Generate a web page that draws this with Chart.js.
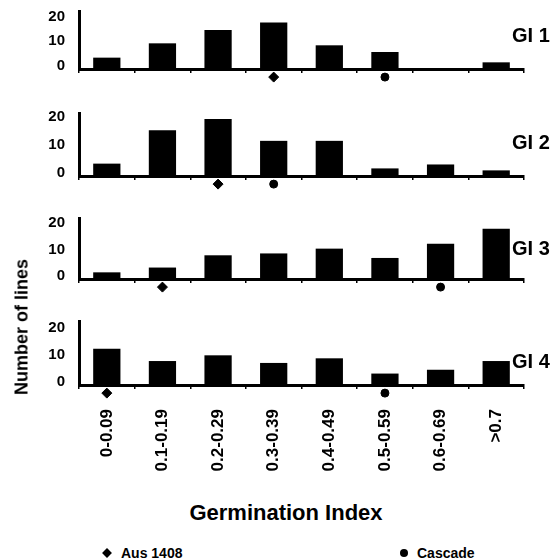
<!DOCTYPE html>
<html>
<head>
<meta charset="utf-8">
<script src="https://cdn.jsdelivr.net/npm/chart.js@4"></script>
<style>
  body { margin: 0; background: #fff; width: 559px; height: 559px; position: relative; overflow: hidden; font-family: 'Liberation Sans', Arial, sans-serif; color: #000; }
  canvas { position: absolute; left: 0; }
  .txt { position: absolute; font-weight: bold; white-space: nowrap; }
  .gi { font-size: 20px; left: 512px; transform: translateY(-50%); }
  .ytitle { font-size: 18px; left: 22px; top: 327px; transform: translate(-50%, -50%) rotate(-90deg); }
  .xtitle { font-size: 22px; left: 286px; top: 513px; transform: translate(-50%, -50%); }
  .leg { font-size: 14px; top: 553px; transform: translateY(-50%); }
  .dia { position: absolute; width: 7px; height: 7px; background: #000; transform: translate(-50%, -50%) rotate(45deg); top: 553px; }
  .dot { position: absolute; width: 8px; height: 8px; border-radius: 50%; background: #000; transform: translate(-50%, -50%); top: 553px; }
</style>
</head>
<body>
<script>
// germination index classes
const categories = ['0-0.09', '0.1-0.19', '0.2-0.29', '0.3-0.39', '0.4-0.49', '0.5-0.59', '0.6-0.69', '>0.7'];

// number of lines per class, one array per panel
const gi1 = [4.6, 10.4, 15.8, 18.8, 9.6, 6.9, 0.4, 2.7];
const gi2 = [4.4, 16.3, 20.3, 12.5, 12.5, 2.7, 4.1, 2.0];
const gi3 = [2.5, 4.3, 8.9, 9.6, 11.4, 7.9, 13.2, 18.9];
const gi4 = [13.3, 8.8, 10.9, 8.1, 9.8, 4.2, 5.6, 8.8];

// class of the parents in each panel (index into categories)
const ausIdx = [3, 2, 1, 0];
const cascadeIdx = [5, 3, 6, 5];

const panelNames = ['GI 1', 'GI 2', 'GI 3', 'GI 4'];
const yTicks = [0, 10, 20];

// layout of each panel (pixels)
const panels = [
  { data: gi1, top: 8, base: 69, max: 23.5, gy: 35 },
  { data: gi2, top: 110, base: 176, max: 22.4, gy: 142 },
  { data: gi3, top: 215, base: 279, max: 22.9, gy: 248 },
  { data: gi4, top: 318, base: 385, max: 23.5, gy: 361 }
];

const padTop = 12;

// parent markers sit just under the axis, so let the points draw below the chart area
const belowAxis = {
  id: 'belowAxis',
  beforeDatasetsDraw(chart) { chart.chartArea.bottom += 20; },
  afterDatasetsDraw(chart) { chart.chartArea.bottom -= 20; }
};

panels.forEach((p, i) => {
  const last = i === panels.length - 1;
  const bottomSpace = last ? 100 : 22;
  const h = (p.base - p.top) + padTop + bottomSpace;
  const cv = document.createElement('canvas');
  cv.width = 559;
  cv.height = h;
  cv.style.top = (p.top - padTop) + 'px';
  document.body.appendChild(cv);

  const ppu = (p.base - p.top) / p.max;
  const markY = -8.5 / ppu;
  const aus = categories.map((c, k) => k === ausIdx[i] ? markY : null);
  const cas = categories.map((c, k) => k === cascadeIdx[i] ? markY : null);

  new Chart(cv, {
    type: 'bar',
    data: {
      labels: categories,
      datasets: [
        {
          label: 'lines',
          data: p.data,
          backgroundColor: '#000',
          barPercentage: 0.49,
          categoryPercentage: 1
        },
        {
          type: 'line',
          label: 'Aus 1408',
          data: aus,
          showLine: false,
          pointStyle: 'rectRot',
          pointRadius: 5,
          pointBackgroundColor: '#000',
          pointBorderColor: '#000',
          clip: false
        },
        {
          type: 'line',
          label: 'Cascade',
          data: cas,
          showLine: false,
          pointStyle: 'circle',
          pointRadius: 4,
          pointBackgroundColor: '#000',
          pointBorderColor: '#000',
          clip: false
        }
      ]
    },
    options: {
      responsive: false,
      animation: false,
      layout: { padding: { top: padTop, left: 39, right: 35, bottom: 0 } },
      plugins: { legend: { display: false }, tooltip: { enabled: false } },
      scales: {
        x: {
          grid: { drawOnChartArea: false, drawTicks: true, tickLength: 4, color: '#000', lineWidth: 1.5 },
          border: { color: '#000', width: 3 },
          ticks: {
            display: last,
            minRotation: 90,
            maxRotation: 90,
            autoSkip: false,
            padding: 20,
            color: '#000',
            font: { family: 'Liberation Sans', size: 17, weight: 'bold' }
          },
          afterFit: s => { s.height = bottomSpace; }
        },
        y: {
          min: 0,
          max: p.max,
          grid: { display: false },
          border: { color: '#000', width: 3 },
          ticks: {
            padding: 6,
            labelOffset: -3,
            color: '#000',
            font: { family: 'Liberation Sans', size: 15, weight: 'bold' }
          },
          afterBuildTicks: s => { s.ticks = yTicks.map(v => ({ value: v })); },
          afterFit: s => { s.width = 40; }
        }
      }
    },
    plugins: [belowAxis]
  });

  const g = document.createElement('div');
  g.className = 'txt gi';
  g.style.top = p.gy + 'px';
  g.textContent = panelNames[i];
  document.body.appendChild(g);
});
</script>
<div class="txt ytitle">Number of lines</div>
<div class="txt xtitle">Germination Index</div>
<div class="dia" style="left:107px"></div>
<div class="txt leg" style="left:121px">Aus 1408</div>
<div class="dot" style="left:404px"></div>
<div class="txt leg" style="left:417px">Cascade</div>
</body>
</html>
